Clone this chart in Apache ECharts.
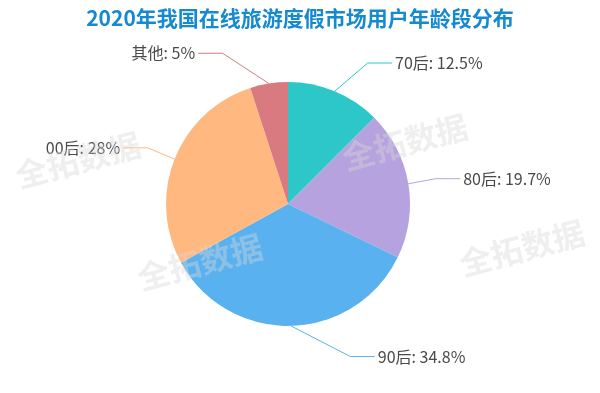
<!DOCTYPE html>
<html>
<head>
<meta charset="utf-8">
<script src="https://cdn.jsdelivr.net/npm/echarts@6/dist/echarts.min.js"></script>
<style>html,body{margin:0;padding:0;background:#fff}#c{width:600px;height:393px}</style>
</head>
<body>
<div id="c"></div>
<script>
var titleText = '2020年我国在线旅游度假市场用户年龄段分布';
var categories = ['70后', '80后', '90后', '00后', '其他'];
var values = [12.5, 19.7, 34.8, 28, 5];
var colors = ['#2ec7c9', '#b6a2de', '#5ab1ef', '#ffb980', '#d87a80'];
var watermarkText = '全拓数据';

var CX = 288, CY = 204, R = 122, LEN = 30.6, LEN2 = 24.4;

var chart = echarts.init(document.getElementById('c'));

var wmPos = [[78, 160], [405, 142], [200, 262], [522, 248]];
var graphics = wmPos.map(function (p) {
  return {
    type: 'text', x: p[0], y: p[1], rotation: 15 * Math.PI / 180, z: 100, silent: true,
    style: { text: watermarkText, fontSize: 32, fontWeight: 'bold', fontFamily: 'Noto Sans CJK SC',
      fill: 'rgba(215,215,215,0.4)', align: 'center', verticalAlign: 'middle' }
  };
});

chart.setOption({
  animation: false,
  backgroundColor: '#fff',
  color: colors,
  title: {
    text: titleText, left: 'center', top: 3,
    textStyle: { fontSize: 21, fontWeight: 'bold', color: '#168ad0', fontFamily: 'Noto Sans CJK SC' }
  },
  graphic: graphics,
  series: [{
    type: 'pie',
    center: [CX, CY],
    radius: R,
    startAngle: 90,
    clockwise: true,
    avoidLabelOverlap: false,
    itemStyle: { borderWidth: 0 },
    label: { formatter: '{b}: {c}%', fontSize: 16, color: '#4a4a4a', fontFamily: 'Noto Sans CJK SC' },
    labelLine: { length: LEN, length2: LEN2, lineStyle: { width: 1 } },
    labelLayout: function (p) {
      var pts = p.labelLinePoints;
      if (!pts) return {};
      var x1 = pts[0][0], y1 = pts[0][1];
      var dx = x1 - CX, dy = y1 - CY;
      var n = Math.sqrt(dx * dx + dy * dy); dx /= n; dy /= n;
      var L1 = R + LEN;
      var y2 = CY + L1 * dy, x2 = CX + L1 * dx;
      var dir = dx < 0 ? -1 : 1;
      var deltaY = Math.abs(y2 - CY);
      var deltaX = deltaY < L1 ? Math.sqrt((L1 + LEN2) * (L1 + LEN2) - deltaY * deltaY) : Math.abs(x2 - CX);
      var lx = CX + dir * deltaX;
      var endX = lx - dir * 3;
      var elbowX = endX - dir * LEN2;
      return {
        x: lx, y: y2, align: dir < 0 ? 'right' : 'left', verticalAlign: 'middle',
        labelLinePoints: [[x1, y1], [elbowX, y2], [endX, y2]]
      };
    },
    data: categories.map(function (c, i) { return { name: c, value: values[i] }; })
  }]
});
</script>
</body>
</html>
